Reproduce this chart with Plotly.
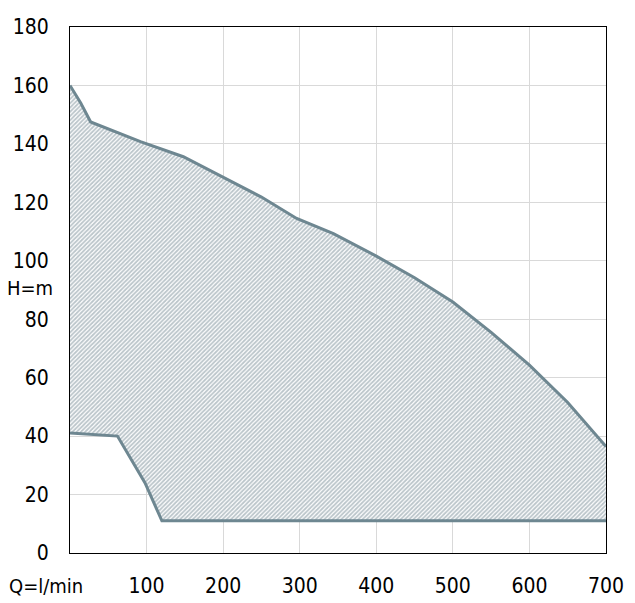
import plotly.graph_objects as go

# Pump operating range: head H (m) against flow Q (l/min)
upper_q = [0, 14, 27, 92, 148, 200, 250, 296, 344, 400, 450, 500, 550, 600, 650, 700]
upper_h = [160, 154, 147.5, 140.8, 135.6, 128.7, 121.8, 114.5, 109.3, 101.6, 94.2, 85.9, 75.5, 64.3, 51.5, 36.4]

lower_q = [0, 62, 98, 120, 700]
lower_h = [41.1, 40, 24, 11, 11]

x_ticks = [0, 100, 200, 300, 400, 500, 600, 700]
x_tick_text = ["", "100", "200", "300", "400", "500", "600", "700"]
y_ticks = [0, 20, 40, 60, 80, 100, 120, 140, 160, 180]

line_color = "#6e8791"
font_family = "DejaVu Sans Condensed, Liberation Sans, sans-serif"

fig = go.Figure()

# hatched area between the two curves
fig.add_trace(go.Scatter(
    x=upper_q + lower_q[::-1],
    y=upper_h + lower_h[::-1],
    fill="toself",
    mode="none",
    fillcolor="white",
    fillpattern=dict(shape="/", fgcolor="#778c96", bgcolor="white", size=3, solidity=0.6),
    hoverinfo="skip",
))
fig.add_trace(go.Scatter(x=upper_q, y=upper_h, mode="lines",
                         line=dict(color=line_color, width=3)))
fig.add_trace(go.Scatter(x=lower_q, y=lower_h, mode="lines",
                         line=dict(color=line_color, width=3)))

# page body adds an 8px margin, so the figure is sized/placed to compensate
fig.update_layout(
    width=627,
    height=595,
    margin=dict(l=62, r=29, t=19, b=50),
    plot_bgcolor="white",
    paper_bgcolor="white",
    showlegend=False,
    font=dict(family=font_family, size=21, color="black"),
)
fig.update_xaxes(
    range=[0, 700], tickvals=x_ticks, ticktext=x_tick_text,
    showgrid=True, gridcolor="#d9d9d9", gridwidth=1,
    showline=True, linecolor="black", linewidth=1, mirror=True,
    zeroline=False, ticks="", ticklabelstandoff=14, automargin=False,
)
fig.update_yaxes(
    range=[0, 180], tickvals=y_ticks,
    showgrid=True, gridcolor="#d9d9d9", gridwidth=1,
    showline=True, linecolor="black", linewidth=1, mirror=True,
    zeroline=False, ticks="", ticklabelstandoff=16, automargin=False,
)

# axis captions
fig.add_annotation(x=-0.0448, y=0, xref="paper", yref="paper", xanchor="center", yanchor="top",
                   yshift=-19, text="Q=l/min", showarrow=False, font=dict(size=20))
fig.add_annotation(x=0, y=90, xref="paper", yref="y", xanchor="right", yanchor="middle",
                   xshift=-15, yshift=2, text="H=m", showarrow=False, font=dict(size=20))

fig.write_html("out.html")
